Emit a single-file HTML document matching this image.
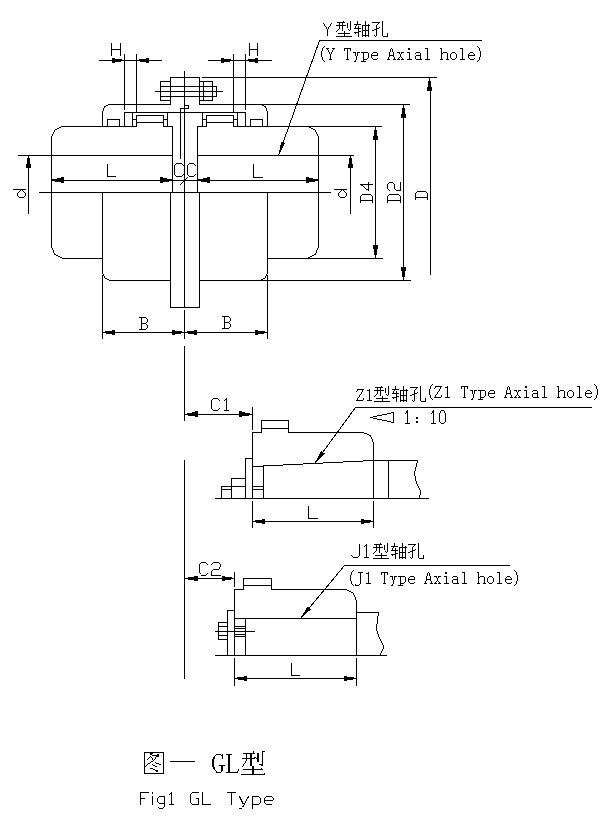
<!DOCTYPE html>
<html><head><meta charset="utf-8"><style>
html,body{margin:0;padding:0;background:#fff;}
svg{display:block;}
.s{fill:none;stroke:#000;stroke-width:1;}
</style></head><body>
<svg width="614" height="818" viewBox="0 0 614 818" role="img" aria-label="Fig1 GL Type coupling diagram">
<title>图一 GL型 / Fig1 GL Type — Y型轴孔 (Y Type Axial hole), Z1型轴孔 (Z1 Type Axial hole), J1型轴孔 (J1 Type Axial hole)</title>
<rect width="614" height="818" fill="#fff"/>
<g fill="#000" shape-rendering="crispEdges">
<rect x="184" y="71" width="1" height="237"/>
<rect x="184" y="310" width="1" height="29"/>
<rect x="170" y="77" width="30" height="1"/>
<rect x="170" y="77" width="1" height="28"/>
<rect x="199" y="77" width="1" height="28"/>
<rect x="160" y="81" width="11" height="1"/>
<rect x="160" y="100" width="11" height="1"/>
<rect x="160" y="81" width="1" height="20"/>
<rect x="199" y="81" width="14" height="1"/>
<rect x="199" y="100" width="14" height="1"/>
<rect x="212" y="81" width="1" height="20"/>
<rect x="203" y="81" width="1" height="20"/>
<rect x="160" y="86" width="57" height="1"/>
<rect x="160" y="96" width="57" height="1"/>
<rect x="216" y="86" width="1" height="11"/>
<rect x="155" y="91" width="68" height="1"/>
<rect x="202" y="77" width="235" height="1"/>
<rect x="108" y="104" width="63" height="1"/>
<rect x="199" y="104" width="211" height="1"/>
<rect x="106" y="105" width="1" height="1"/>
<rect x="107" y="105" width="1" height="1"/>
<rect x="104" y="106" width="1" height="1"/>
<rect x="105" y="106" width="1" height="1"/>
<rect x="104" y="107" width="1" height="1"/>
<rect x="103" y="108" width="1" height="1"/>
<rect x="103" y="109" width="1" height="1"/>
<rect x="103" y="110" width="1" height="1"/>
<rect x="263" y="105" width="1" height="1"/>
<rect x="262" y="105" width="1" height="1"/>
<rect x="265" y="106" width="1" height="1"/>
<rect x="264" y="106" width="1" height="1"/>
<rect x="265" y="107" width="1" height="1"/>
<rect x="266" y="108" width="1" height="1"/>
<rect x="266" y="109" width="1" height="1"/>
<rect x="266" y="110" width="1" height="1"/>
<rect x="102" y="111" width="1" height="16"/>
<rect x="267" y="111" width="1" height="16"/>
<rect x="107" y="119" width="13" height="1"/>
<rect x="107" y="119" width="1" height="8"/>
<rect x="119" y="119" width="1" height="8"/>
<rect x="250" y="119" width="13" height="1"/>
<rect x="250" y="119" width="1" height="8"/>
<rect x="262" y="119" width="1" height="8"/>
<rect x="124" y="112" width="122" height="1"/>
<rect x="124" y="112" width="1" height="15"/>
<rect x="132" y="112" width="1" height="15"/>
<rect x="136" y="115" width="1" height="12"/>
<rect x="132" y="119" width="5" height="1"/>
<rect x="136" y="115" width="28" height="1"/>
<rect x="136" y="122" width="28" height="1"/>
<rect x="163" y="115" width="1" height="12"/>
<rect x="163" y="119" width="5" height="1"/>
<rect x="167" y="112" width="1" height="15"/>
<rect x="245" y="112" width="1" height="15"/>
<rect x="237" y="112" width="1" height="15"/>
<rect x="233" y="115" width="1" height="12"/>
<rect x="233" y="119" width="5" height="1"/>
<rect x="206" y="115" width="28" height="1"/>
<rect x="206" y="122" width="28" height="1"/>
<rect x="206" y="115" width="1" height="12"/>
<rect x="202" y="119" width="5" height="1"/>
<rect x="202" y="112" width="1" height="15"/>
<rect x="184" y="105" width="5" height="1"/>
<rect x="188" y="105" width="1" height="4"/>
<rect x="180" y="108" width="9" height="1"/>
<rect x="180" y="108" width="1" height="51"/>
<rect x="61" y="126" width="76" height="1"/>
<rect x="163" y="126" width="10" height="1"/>
<rect x="197" y="126" width="10" height="1"/>
<rect x="233" y="126" width="149" height="1"/>
<rect x="59" y="127" width="1" height="1"/>
<rect x="60" y="127" width="1" height="1"/>
<rect x="57" y="128" width="1" height="1"/>
<rect x="58" y="128" width="1" height="1"/>
<rect x="55" y="129" width="1" height="1"/>
<rect x="56" y="129" width="1" height="1"/>
<rect x="54" y="130" width="1" height="1"/>
<rect x="54" y="131" width="1" height="1"/>
<rect x="53" y="132" width="1" height="1"/>
<rect x="53" y="133" width="1" height="1"/>
<rect x="52" y="134" width="1" height="1"/>
<rect x="52" y="135" width="1" height="1"/>
<rect x="310" y="127" width="1" height="1"/>
<rect x="309" y="127" width="1" height="1"/>
<rect x="312" y="128" width="1" height="1"/>
<rect x="311" y="128" width="1" height="1"/>
<rect x="314" y="129" width="1" height="1"/>
<rect x="313" y="129" width="1" height="1"/>
<rect x="315" y="130" width="1" height="1"/>
<rect x="315" y="131" width="1" height="1"/>
<rect x="316" y="132" width="1" height="1"/>
<rect x="316" y="133" width="1" height="1"/>
<rect x="317" y="134" width="1" height="1"/>
<rect x="317" y="135" width="1" height="1"/>
<rect x="51" y="136" width="1" height="112"/>
<rect x="318" y="136" width="1" height="112"/>
<rect x="52" y="248" width="1" height="1"/>
<rect x="52" y="249" width="1" height="1"/>
<rect x="53" y="250" width="1" height="1"/>
<rect x="53" y="251" width="1" height="1"/>
<rect x="53" y="252" width="1" height="1"/>
<rect x="54" y="253" width="1" height="1"/>
<rect x="54" y="254" width="1" height="1"/>
<rect x="55" y="254" width="1" height="1"/>
<rect x="56" y="255" width="1" height="1"/>
<rect x="57" y="255" width="1" height="1"/>
<rect x="58" y="256" width="1" height="1"/>
<rect x="59" y="256" width="1" height="1"/>
<rect x="60" y="257" width="1" height="1"/>
<rect x="61" y="257" width="1" height="1"/>
<rect x="317" y="248" width="1" height="1"/>
<rect x="317" y="249" width="1" height="1"/>
<rect x="316" y="250" width="1" height="1"/>
<rect x="316" y="251" width="1" height="1"/>
<rect x="316" y="252" width="1" height="1"/>
<rect x="315" y="253" width="1" height="1"/>
<rect x="315" y="254" width="1" height="1"/>
<rect x="314" y="254" width="1" height="1"/>
<rect x="313" y="255" width="1" height="1"/>
<rect x="312" y="255" width="1" height="1"/>
<rect x="311" y="256" width="1" height="1"/>
<rect x="310" y="256" width="1" height="1"/>
<rect x="309" y="257" width="1" height="1"/>
<rect x="308" y="257" width="1" height="1"/>
<rect x="62" y="258" width="41" height="1"/>
<rect x="267" y="258" width="116" height="1"/>
<rect x="172" y="126" width="1" height="67"/>
<rect x="197" y="126" width="1" height="67"/>
<rect x="170" y="192" width="1" height="116"/>
<rect x="199" y="192" width="1" height="116"/>
<rect x="170" y="307" width="30" height="1"/>
<rect x="102" y="192" width="1" height="82"/>
<rect x="103" y="274" width="1" height="1"/>
<rect x="103" y="275" width="1" height="1"/>
<rect x="104" y="276" width="1" height="1"/>
<rect x="104" y="277" width="1" height="1"/>
<rect x="105" y="278" width="1" height="1"/>
<rect x="106" y="278" width="1" height="1"/>
<rect x="107" y="279" width="1" height="1"/>
<rect x="108" y="279" width="1" height="1"/>
<rect x="109" y="280" width="62" height="1"/>
<rect x="267" y="192" width="1" height="82"/>
<rect x="266" y="274" width="1" height="1"/>
<rect x="266" y="275" width="1" height="1"/>
<rect x="265" y="276" width="1" height="1"/>
<rect x="265" y="277" width="1" height="1"/>
<rect x="264" y="278" width="1" height="1"/>
<rect x="263" y="278" width="1" height="1"/>
<rect x="262" y="279" width="1" height="1"/>
<rect x="261" y="279" width="1" height="1"/>
<rect x="199" y="280" width="212" height="1"/>
<rect x="102" y="275" width="1" height="64"/>
<rect x="267" y="275" width="1" height="64"/>
<rect x="18" y="155" width="155" height="1"/>
<rect x="197" y="155" width="157" height="1"/>
<rect x="39" y="192" width="292" height="1"/>
<rect x="28" y="155" width="1" height="59"/>
<rect x="28" y="156" width="1" height="2"/>
<rect x="27" y="158" width="3" height="6"/>
<rect x="26" y="164" width="5" height="4"/>
<rect x="350" y="155" width="1" height="59"/>
<rect x="350" y="156" width="1" height="2"/>
<rect x="349" y="158" width="3" height="6"/>
<rect x="348" y="164" width="5" height="4"/>
<rect x="51" y="180" width="268" height="1"/>
<rect x="52" y="179" width="3" height="2"/>
<rect x="55" y="179" width="2" height="3"/>
<rect x="57" y="178" width="4" height="4"/>
<rect x="61" y="177" width="3" height="6"/>
<rect x="169" y="179" width="3" height="2"/>
<rect x="167" y="179" width="2" height="3"/>
<rect x="163" y="178" width="4" height="4"/>
<rect x="160" y="177" width="3" height="6"/>
<rect x="198" y="179" width="3" height="2"/>
<rect x="201" y="179" width="2" height="3"/>
<rect x="203" y="178" width="4" height="4"/>
<rect x="207" y="177" width="3" height="6"/>
<rect x="315" y="179" width="3" height="2"/>
<rect x="313" y="179" width="2" height="3"/>
<rect x="309" y="178" width="4" height="4"/>
<rect x="306" y="177" width="3" height="6"/>
<rect x="102" y="332" width="166" height="1"/>
<rect x="103" y="332" width="2" height="1"/>
<rect x="105" y="331" width="1" height="2"/>
<rect x="106" y="331" width="6" height="3"/>
<rect x="112" y="330" width="3" height="5"/>
<rect x="182" y="332" width="2" height="1"/>
<rect x="181" y="331" width="1" height="2"/>
<rect x="175" y="331" width="6" height="3"/>
<rect x="172" y="330" width="3" height="5"/>
<rect x="185" y="332" width="2" height="1"/>
<rect x="187" y="331" width="1" height="2"/>
<rect x="188" y="331" width="6" height="3"/>
<rect x="194" y="330" width="3" height="5"/>
<rect x="265" y="332" width="2" height="1"/>
<rect x="264" y="331" width="1" height="2"/>
<rect x="258" y="331" width="6" height="3"/>
<rect x="255" y="330" width="3" height="5"/>
<rect x="99" y="60" width="63" height="1"/>
<rect x="122" y="60" width="2" height="1"/>
<rect x="121" y="59" width="1" height="2"/>
<rect x="115" y="59" width="6" height="3"/>
<rect x="112" y="58" width="3" height="5"/>
<rect x="137" y="60" width="2" height="1"/>
<rect x="139" y="59" width="1" height="2"/>
<rect x="140" y="59" width="6" height="3"/>
<rect x="146" y="58" width="3" height="5"/>
<rect x="124" y="54" width="1" height="56"/>
<rect x="136" y="54" width="1" height="59"/>
<rect x="208" y="60" width="64" height="1"/>
<rect x="231" y="60" width="2" height="1"/>
<rect x="230" y="59" width="1" height="2"/>
<rect x="224" y="59" width="6" height="3"/>
<rect x="221" y="58" width="3" height="5"/>
<rect x="246" y="60" width="2" height="1"/>
<rect x="248" y="59" width="1" height="2"/>
<rect x="249" y="59" width="6" height="3"/>
<rect x="255" y="58" width="3" height="5"/>
<rect x="233" y="54" width="1" height="59"/>
<rect x="245" y="54" width="1" height="56"/>
<rect x="375" y="126" width="1" height="133"/>
<rect x="375" y="127" width="1" height="3"/>
<rect x="374" y="130" width="3" height="6"/>
<rect x="373" y="136" width="5" height="4"/>
<rect x="375" y="255" width="1" height="3"/>
<rect x="374" y="249" width="3" height="6"/>
<rect x="373" y="245" width="5" height="4"/>
<rect x="403" y="104" width="1" height="177"/>
<rect x="403" y="105" width="1" height="3"/>
<rect x="402" y="108" width="3" height="6"/>
<rect x="401" y="114" width="5" height="4"/>
<rect x="403" y="277" width="1" height="3"/>
<rect x="402" y="271" width="3" height="6"/>
<rect x="401" y="267" width="5" height="4"/>
<rect x="430" y="88" width="1" height="187"/>
<rect x="429" y="78" width="1" height="3"/>
<rect x="428" y="81" width="3" height="6"/>
<rect x="427" y="87" width="5" height="4"/>
<path d="M319.5 40.5L278.5 155.5" class="s" />
<path d="M278.5 155.5L285.27 143.05L281.13 141.57Z" fill="#000"/>
<rect x="319" y="40" width="163" height="1"/>
<rect x="180" y="184" width="1" height="1"/>
<rect x="181" y="183" width="1" height="1"/>
<rect x="182" y="182" width="1" height="1"/>
<rect x="183" y="181" width="1" height="1"/>
<rect x="184" y="180" width="1" height="1"/>
<rect x="185" y="179" width="1" height="1"/>
<rect x="186" y="178" width="1" height="1"/>
<rect x="187" y="177" width="1" height="1"/>
<rect x="111" y="43" width="1" height="13"/>
<rect x="120" y="43" width="1" height="13"/>
<rect x="111" y="49" width="10" height="1"/>
<rect x="249" y="43" width="1" height="13"/>
<rect x="257" y="43" width="1" height="13"/>
<rect x="249" y="49" width="9" height="1"/>
<rect x="107" y="164" width="1" height="13"/>
<rect x="107" y="176" width="9" height="1"/>
<rect x="253" y="164" width="1" height="14"/>
<rect x="253" y="177" width="10" height="1"/>
<rect x="139" y="317" width="7" height="1"/>
<rect x="139" y="329" width="7" height="1"/>
<rect x="141" y="323" width="5" height="1"/>
<rect x="141" y="317" width="1" height="13"/>
<rect x="146" y="318" width="1" height="1"/>
<rect x="147" y="319" width="1" height="3"/>
<rect x="146" y="322" width="1" height="1"/>
<rect x="146" y="324" width="1" height="1"/>
<rect x="147" y="325" width="1" height="3"/>
<rect x="146" y="328" width="1" height="1"/>
<rect x="222" y="316" width="7" height="1"/>
<rect x="222" y="328" width="7" height="1"/>
<rect x="224" y="322" width="5" height="1"/>
<rect x="224" y="316" width="1" height="13"/>
<rect x="229" y="317" width="1" height="1"/>
<rect x="230" y="318" width="1" height="3"/>
<rect x="229" y="321" width="1" height="1"/>
<rect x="229" y="323" width="1" height="1"/>
<rect x="230" y="324" width="1" height="3"/>
<rect x="229" y="327" width="1" height="1"/>
<rect x="176" y="163" width="6" height="1"/>
<rect x="175" y="164" width="1" height="1"/>
<rect x="174" y="165" width="1" height="10"/>
<rect x="175" y="175" width="1" height="1"/>
<rect x="176" y="176" width="6" height="1"/>
<rect x="182" y="164" width="1" height="1"/>
<rect x="183" y="165" width="1" height="1"/>
<rect x="182" y="175" width="1" height="1"/>
<rect x="183" y="174" width="1" height="1"/>
<rect x="189" y="163" width="5" height="1"/>
<rect x="188" y="164" width="1" height="1"/>
<rect x="187" y="165" width="1" height="10"/>
<rect x="188" y="175" width="1" height="1"/>
<rect x="189" y="176" width="5" height="1"/>
<rect x="194" y="164" width="1" height="1"/>
<rect x="195" y="165" width="1" height="1"/>
<rect x="194" y="175" width="1" height="1"/>
<rect x="195" y="174" width="1" height="1"/>
<rect x="184" y="346" width="1" height="75"/>
<rect x="184" y="460" width="1" height="219"/>
<rect x="184" y="414" width="69" height="1"/>
<rect x="185" y="414" width="2" height="1"/>
<rect x="187" y="413" width="1" height="2"/>
<rect x="188" y="413" width="4" height="3"/>
<rect x="192" y="412" width="3" height="4"/>
<rect x="195" y="411" width="3" height="6"/>
<rect x="250" y="414" width="2" height="1"/>
<rect x="249" y="413" width="1" height="2"/>
<rect x="245" y="413" width="4" height="3"/>
<rect x="242" y="412" width="3" height="4"/>
<rect x="239" y="411" width="3" height="6"/>
<rect x="252" y="407" width="1" height="23"/>
<rect x="252" y="432" width="1" height="67"/>
<rect x="252" y="432" width="10" height="1"/>
<rect x="261" y="420" width="1" height="13"/>
<rect x="261" y="420" width="28" height="1"/>
<rect x="261" y="428" width="28" height="1"/>
<rect x="288" y="420" width="1" height="13"/>
<rect x="288" y="432" width="76" height="1"/>
<rect x="364" y="433" width="1" height="1"/>
<rect x="365" y="433" width="1" height="1"/>
<rect x="366" y="433" width="1" height="1"/>
<rect x="367" y="434" width="1" height="1"/>
<rect x="368" y="434" width="1" height="1"/>
<rect x="369" y="435" width="1" height="1"/>
<rect x="370" y="435" width="1" height="1"/>
<rect x="370" y="436" width="1" height="1"/>
<rect x="371" y="437" width="1" height="1"/>
<rect x="371" y="438" width="1" height="1"/>
<rect x="372" y="439" width="1" height="1"/>
<rect x="372" y="440" width="1" height="1"/>
<rect x="372" y="441" width="1" height="1"/>
<rect x="373" y="442" width="1" height="57"/>
<rect x="221" y="486" width="1" height="13"/>
<rect x="221" y="486" width="11" height="1"/>
<rect x="221" y="489" width="11" height="1"/>
<rect x="231" y="478" width="1" height="21"/>
<rect x="231" y="478" width="15" height="1"/>
<rect x="231" y="486" width="15" height="1"/>
<rect x="245" y="458" width="1" height="41"/>
<rect x="245" y="458" width="8" height="1"/>
<rect x="252" y="466" width="12" height="1"/>
<rect x="252" y="486" width="12" height="1"/>
<rect x="252" y="489" width="12" height="1"/>
<rect x="263" y="465" width="1" height="34"/>
<rect x="263" y="465" width="20" height="1"/>
<rect x="283" y="464" width="20" height="1"/>
<rect x="303" y="463" width="20" height="1"/>
<rect x="323" y="462" width="20" height="1"/>
<rect x="343" y="461" width="20" height="1"/>
<rect x="363" y="460" width="55" height="1"/>
<rect x="388" y="460" width="1" height="39"/>
<rect x="417" y="461" width="1" height="1"/>
<rect x="417" y="462" width="1" height="1"/>
<rect x="416" y="463" width="1" height="1"/>
<rect x="416" y="464" width="1" height="1"/>
<rect x="416" y="465" width="1" height="1"/>
<rect x="416" y="466" width="1" height="1"/>
<rect x="415" y="467" width="1" height="1"/>
<rect x="415" y="468" width="1" height="1"/>
<rect x="415" y="469" width="1" height="1"/>
<rect x="415" y="470" width="1" height="1"/>
<rect x="414" y="471" width="1" height="1"/>
<rect x="414" y="472" width="1" height="1"/>
<rect x="414" y="473" width="1" height="1"/>
<rect x="414" y="474" width="1" height="1"/>
<rect x="414" y="475" width="1" height="1"/>
<rect x="415" y="476" width="1" height="1"/>
<rect x="415" y="477" width="1" height="1"/>
<rect x="415" y="478" width="1" height="1"/>
<rect x="415" y="479" width="1" height="1"/>
<rect x="415" y="480" width="1" height="1"/>
<rect x="416" y="481" width="1" height="1"/>
<rect x="416" y="482" width="1" height="1"/>
<rect x="416" y="483" width="1" height="1"/>
<rect x="417" y="484" width="1" height="1"/>
<rect x="417" y="485" width="1" height="1"/>
<rect x="418" y="486" width="1" height="1"/>
<rect x="418" y="487" width="1" height="1"/>
<rect x="419" y="488" width="1" height="1"/>
<rect x="419" y="489" width="1" height="1"/>
<rect x="420" y="490" width="1" height="1"/>
<rect x="420" y="491" width="1" height="1"/>
<rect x="420" y="492" width="1" height="1"/>
<rect x="420" y="493" width="1" height="1"/>
<rect x="420" y="494" width="1" height="1"/>
<rect x="419" y="495" width="1" height="1"/>
<rect x="419" y="496" width="1" height="1"/>
<rect x="419" y="497" width="1" height="1"/>
<rect x="215" y="498" width="214" height="1"/>
<rect x="252" y="501" width="1" height="27"/>
<rect x="373" y="501" width="1" height="27"/>
<rect x="252" y="521" width="122" height="1"/>
<rect x="253" y="521" width="2" height="1"/>
<rect x="255" y="520" width="1" height="2"/>
<rect x="256" y="520" width="6" height="3"/>
<rect x="262" y="519" width="3" height="5"/>
<rect x="371" y="521" width="2" height="1"/>
<rect x="370" y="520" width="1" height="2"/>
<rect x="364" y="520" width="6" height="3"/>
<rect x="361" y="519" width="3" height="5"/>
<rect x="308" y="506" width="1" height="13"/>
<rect x="308" y="518" width="10" height="1"/>
<path d="M355.5 407.5L314.5 463.5" class="s" />
<path d="M314.5 463.5L324.55 453.50L321.00 450.90Z" fill="#000"/>
<rect x="355" y="407" width="237" height="1"/>
<path d="M370.5 417.5L393.5 412.5L393.5 422.5Z" class="s" fill="none"/>
<rect x="184" y="578" width="51" height="1"/>
<rect x="185" y="578" width="3" height="1"/>
<rect x="188" y="577" width="6" height="3"/>
<rect x="194" y="576" width="4" height="5"/>
<rect x="232" y="578" width="2" height="1"/>
<rect x="231" y="577" width="1" height="2"/>
<rect x="225" y="577" width="6" height="3"/>
<rect x="222" y="576" width="3" height="5"/>
<rect x="234" y="572" width="1" height="15"/>
<rect x="234" y="589" width="1" height="67"/>
<rect x="234" y="589" width="10" height="1"/>
<rect x="243" y="578" width="1" height="12"/>
<rect x="243" y="578" width="29" height="1"/>
<rect x="243" y="585" width="29" height="1"/>
<rect x="271" y="578" width="1" height="12"/>
<rect x="271" y="589" width="76" height="1"/>
<rect x="347" y="590" width="1" height="1"/>
<rect x="348" y="590" width="1" height="1"/>
<rect x="349" y="591" width="1" height="1"/>
<rect x="350" y="591" width="1" height="1"/>
<rect x="351" y="592" width="1" height="1"/>
<rect x="352" y="592" width="1" height="1"/>
<rect x="353" y="593" width="1" height="1"/>
<rect x="353" y="594" width="1" height="1"/>
<rect x="354" y="595" width="1" height="1"/>
<rect x="354" y="596" width="1" height="1"/>
<rect x="355" y="597" width="1" height="1"/>
<rect x="355" y="598" width="1" height="1"/>
<rect x="355" y="599" width="1" height="1"/>
<rect x="356" y="600" width="1" height="56"/>
<rect x="227" y="610" width="1" height="46"/>
<rect x="227" y="610" width="8" height="1"/>
<rect x="218" y="622" width="1" height="18"/>
<rect x="218" y="622" width="10" height="1"/>
<rect x="218" y="639" width="10" height="1"/>
<rect x="218" y="626" width="10" height="1"/>
<rect x="218" y="635" width="10" height="1"/>
<rect x="215" y="631" width="40" height="1"/>
<rect x="234" y="618" width="123" height="1"/>
<rect x="245" y="618" width="1" height="38"/>
<rect x="234" y="626" width="12" height="1"/>
<rect x="234" y="628" width="12" height="1"/>
<rect x="234" y="634" width="12" height="1"/>
<rect x="234" y="636" width="12" height="1"/>
<rect x="356" y="612" width="23" height="1"/>
<rect x="378" y="613" width="1" height="1"/>
<rect x="378" y="614" width="1" height="1"/>
<rect x="378" y="615" width="1" height="1"/>
<rect x="377" y="616" width="1" height="1"/>
<rect x="377" y="617" width="1" height="1"/>
<rect x="377" y="618" width="1" height="1"/>
<rect x="377" y="619" width="1" height="1"/>
<rect x="377" y="620" width="1" height="1"/>
<rect x="377" y="621" width="1" height="1"/>
<rect x="377" y="622" width="1" height="1"/>
<rect x="377" y="623" width="1" height="1"/>
<rect x="376" y="624" width="1" height="1"/>
<rect x="376" y="625" width="1" height="1"/>
<rect x="376" y="626" width="1" height="1"/>
<rect x="376" y="627" width="1" height="1"/>
<rect x="376" y="628" width="1" height="1"/>
<rect x="376" y="629" width="1" height="1"/>
<rect x="376" y="630" width="1" height="1"/>
<rect x="377" y="631" width="1" height="1"/>
<rect x="377" y="632" width="1" height="1"/>
<rect x="377" y="633" width="1" height="1"/>
<rect x="378" y="634" width="1" height="1"/>
<rect x="378" y="635" width="1" height="1"/>
<rect x="378" y="636" width="1" height="1"/>
<rect x="379" y="637" width="1" height="1"/>
<rect x="379" y="638" width="1" height="1"/>
<rect x="380" y="639" width="1" height="1"/>
<rect x="380" y="640" width="1" height="1"/>
<rect x="381" y="641" width="1" height="1"/>
<rect x="381" y="642" width="1" height="1"/>
<rect x="382" y="643" width="1" height="1"/>
<rect x="382" y="644" width="1" height="1"/>
<rect x="383" y="645" width="1" height="1"/>
<rect x="383" y="646" width="1" height="1"/>
<rect x="383" y="647" width="1" height="1"/>
<rect x="383" y="648" width="1" height="1"/>
<rect x="382" y="649" width="1" height="1"/>
<rect x="382" y="650" width="1" height="1"/>
<rect x="381" y="651" width="1" height="1"/>
<rect x="381" y="652" width="1" height="1"/>
<rect x="380" y="653" width="1" height="1"/>
<rect x="380" y="654" width="1" height="1"/>
<rect x="215" y="655" width="172" height="1"/>
<rect x="234" y="658" width="1" height="28"/>
<rect x="356" y="658" width="1" height="28"/>
<rect x="234" y="678" width="123" height="1"/>
<rect x="235" y="678" width="2" height="1"/>
<rect x="237" y="677" width="1" height="2"/>
<rect x="238" y="677" width="6" height="3"/>
<rect x="244" y="676" width="3" height="5"/>
<rect x="354" y="678" width="2" height="1"/>
<rect x="353" y="677" width="1" height="2"/>
<rect x="347" y="677" width="6" height="3"/>
<rect x="344" y="676" width="3" height="5"/>
<rect x="291" y="663" width="1" height="13"/>
<rect x="291" y="675" width="9" height="1"/>
<path d="M344.5 565.5L300.5 618.5" class="s" />
<path d="M300.5 618.5L311.14 609.13L307.75 606.32Z" fill="#000"/>
<rect x="344" y="565" width="166" height="1"/>
<rect x="337" y="22" width="8" height="1"/>
<rect x="343" y="21" width="1" height="1"/>
<rect x="336" y="25" width="10" height="1"/>
<rect x="339" y="22" width="1" height="7"/>
<rect x="338" y="29" width="1" height="1"/>
<rect x="337" y="30" width="1" height="1"/>
<rect x="336" y="31" width="1" height="1"/>
<rect x="342" y="22" width="1" height="9"/>
<rect x="347" y="23" width="1" height="5"/>
<rect x="350" y="21" width="1" height="9"/>
<rect x="349" y="30" width="1" height="1"/>
<rect x="348" y="29" width="1" height="1"/>
<rect x="344" y="31" width="1" height="6"/>
<rect x="338" y="33" width="12" height="1"/>
<rect x="336" y="36" width="16" height="1"/>
<rect x="357" y="21" width="1" height="3"/>
<rect x="354" y="24" width="7" height="1"/>
<rect x="356" y="25" width="1" height="1"/>
<rect x="355" y="26" width="1" height="1"/>
<rect x="355" y="27" width="1" height="1"/>
<rect x="354" y="28" width="7" height="1"/>
<rect x="358" y="26" width="1" height="11"/>
<rect x="358" y="31" width="3" height="1"/>
<rect x="354" y="32" width="4" height="1"/>
<rect x="355" y="33" width="1" height="1"/>
<rect x="365" y="21" width="1" height="16"/>
<rect x="362" y="25" width="1" height="12"/>
<rect x="368" y="24" width="1" height="13"/>
<rect x="362" y="25" width="8" height="1"/>
<rect x="362" y="30" width="7" height="1"/>
<rect x="362" y="35" width="7" height="1"/>
<rect x="372" y="22" width="8" height="1"/>
<rect x="378" y="23" width="1" height="1"/>
<rect x="377" y="24" width="1" height="1"/>
<rect x="376" y="25" width="1" height="1"/>
<rect x="376" y="25" width="1" height="11"/>
<rect x="375" y="36" width="1" height="1"/>
<rect x="374" y="35" width="1" height="1"/>
<rect x="374" y="29" width="3" height="1"/>
<rect x="372" y="30" width="2" height="1"/>
<rect x="377" y="28" width="2" height="1"/>
<rect x="379" y="27" width="1" height="1"/>
<rect x="382" y="21" width="1" height="15"/>
<rect x="383" y="36" width="5" height="1"/>
<rect x="387" y="33" width="1" height="4"/>
<rect x="375" y="387" width="8" height="1"/>
<rect x="381" y="386" width="1" height="1"/>
<rect x="374" y="390" width="10" height="1"/>
<rect x="377" y="387" width="1" height="7"/>
<rect x="376" y="394" width="1" height="1"/>
<rect x="375" y="395" width="1" height="1"/>
<rect x="374" y="396" width="1" height="1"/>
<rect x="380" y="387" width="1" height="9"/>
<rect x="385" y="388" width="1" height="5"/>
<rect x="388" y="386" width="1" height="9"/>
<rect x="387" y="395" width="1" height="1"/>
<rect x="386" y="394" width="1" height="1"/>
<rect x="382" y="396" width="1" height="6"/>
<rect x="376" y="398" width="12" height="1"/>
<rect x="374" y="401" width="16" height="1"/>
<rect x="395" y="386" width="1" height="3"/>
<rect x="392" y="389" width="7" height="1"/>
<rect x="394" y="390" width="1" height="1"/>
<rect x="393" y="391" width="1" height="1"/>
<rect x="393" y="392" width="1" height="1"/>
<rect x="392" y="393" width="7" height="1"/>
<rect x="396" y="391" width="1" height="11"/>
<rect x="396" y="396" width="3" height="1"/>
<rect x="392" y="397" width="4" height="1"/>
<rect x="393" y="398" width="1" height="1"/>
<rect x="403" y="386" width="1" height="16"/>
<rect x="400" y="390" width="1" height="12"/>
<rect x="406" y="389" width="1" height="13"/>
<rect x="400" y="390" width="8" height="1"/>
<rect x="400" y="395" width="7" height="1"/>
<rect x="400" y="400" width="7" height="1"/>
<rect x="410" y="387" width="8" height="1"/>
<rect x="416" y="388" width="1" height="1"/>
<rect x="415" y="389" width="1" height="1"/>
<rect x="414" y="390" width="1" height="1"/>
<rect x="414" y="390" width="1" height="11"/>
<rect x="413" y="401" width="1" height="1"/>
<rect x="412" y="400" width="1" height="1"/>
<rect x="412" y="394" width="3" height="1"/>
<rect x="410" y="395" width="2" height="1"/>
<rect x="415" y="393" width="2" height="1"/>
<rect x="417" y="392" width="1" height="1"/>
<rect x="420" y="386" width="1" height="15"/>
<rect x="421" y="401" width="5" height="1"/>
<rect x="425" y="398" width="1" height="4"/>
<rect x="374" y="544" width="8" height="1"/>
<rect x="380" y="543" width="1" height="1"/>
<rect x="373" y="547" width="10" height="1"/>
<rect x="376" y="544" width="1" height="7"/>
<rect x="375" y="551" width="1" height="1"/>
<rect x="374" y="552" width="1" height="1"/>
<rect x="373" y="553" width="1" height="1"/>
<rect x="379" y="544" width="1" height="9"/>
<rect x="384" y="545" width="1" height="5"/>
<rect x="387" y="543" width="1" height="9"/>
<rect x="386" y="552" width="1" height="1"/>
<rect x="385" y="551" width="1" height="1"/>
<rect x="381" y="553" width="1" height="6"/>
<rect x="375" y="555" width="12" height="1"/>
<rect x="373" y="558" width="16" height="1"/>
<rect x="394" y="543" width="1" height="3"/>
<rect x="391" y="546" width="7" height="1"/>
<rect x="393" y="547" width="1" height="1"/>
<rect x="392" y="548" width="1" height="1"/>
<rect x="392" y="549" width="1" height="1"/>
<rect x="391" y="550" width="7" height="1"/>
<rect x="395" y="548" width="1" height="11"/>
<rect x="395" y="553" width="3" height="1"/>
<rect x="391" y="554" width="4" height="1"/>
<rect x="392" y="555" width="1" height="1"/>
<rect x="402" y="543" width="1" height="16"/>
<rect x="399" y="547" width="1" height="12"/>
<rect x="405" y="546" width="1" height="13"/>
<rect x="399" y="547" width="8" height="1"/>
<rect x="399" y="552" width="7" height="1"/>
<rect x="399" y="557" width="7" height="1"/>
<rect x="408" y="544" width="8" height="1"/>
<rect x="414" y="545" width="1" height="1"/>
<rect x="413" y="546" width="1" height="1"/>
<rect x="412" y="547" width="1" height="1"/>
<rect x="412" y="547" width="1" height="11"/>
<rect x="411" y="558" width="1" height="1"/>
<rect x="410" y="557" width="1" height="1"/>
<rect x="410" y="551" width="3" height="1"/>
<rect x="408" y="552" width="2" height="1"/>
<rect x="413" y="550" width="2" height="1"/>
<rect x="415" y="549" width="1" height="1"/>
<rect x="418" y="543" width="1" height="15"/>
<rect x="419" y="558" width="5" height="1"/>
<rect x="423" y="555" width="1" height="4"/>
<rect x="13" y="189" width="13" height="1"/>
<rect x="20" y="190" width="1" height="1"/>
<rect x="22" y="190" width="1" height="1"/>
<rect x="19" y="191" width="1" height="1"/>
<rect x="18" y="192" width="1" height="1"/>
<rect x="17" y="193" width="1" height="3"/>
<rect x="18" y="196" width="1" height="1"/>
<rect x="19" y="197" width="5" height="1"/>
<rect x="24" y="196" width="1" height="1"/>
<rect x="25" y="193" width="1" height="3"/>
<rect x="24" y="192" width="1" height="1"/>
<rect x="23" y="191" width="1" height="1"/>
<rect x="334" y="189" width="13" height="1"/>
<rect x="341" y="190" width="1" height="1"/>
<rect x="343" y="190" width="1" height="1"/>
<rect x="340" y="191" width="1" height="1"/>
<rect x="339" y="192" width="1" height="1"/>
<rect x="338" y="193" width="1" height="3"/>
<rect x="339" y="196" width="1" height="1"/>
<rect x="340" y="197" width="5" height="1"/>
<rect x="345" y="196" width="1" height="1"/>
<rect x="346" y="193" width="1" height="3"/>
<rect x="345" y="192" width="1" height="1"/>
<rect x="344" y="191" width="1" height="1"/>
<rect x="360" y="184" width="13" height="1"/>
<rect x="368" y="182" width="1" height="9"/>
<rect x="361" y="185" width="1" height="1"/>
<rect x="362" y="185" width="1" height="1"/>
<rect x="363" y="186" width="1" height="1"/>
<rect x="364" y="187" width="1" height="1"/>
<rect x="365" y="188" width="1" height="1"/>
<rect x="366" y="189" width="1" height="1"/>
<rect x="367" y="189" width="1" height="1"/>
<rect x="362" y="194" width="9" height="1"/>
<rect x="361" y="195" width="1" height="1"/>
<rect x="371" y="195" width="1" height="1"/>
<rect x="360" y="196" width="1" height="7"/>
<rect x="372" y="196" width="1" height="7"/>
<rect x="360" y="200" width="13" height="1"/>
<rect x="400" y="182" width="1" height="9"/>
<rect x="396" y="190" width="5" height="1"/>
<rect x="395" y="189" width="1" height="1"/>
<rect x="394" y="184" width="1" height="5"/>
<rect x="393" y="183" width="1" height="1"/>
<rect x="389" y="182" width="4" height="1"/>
<rect x="388" y="183" width="1" height="1"/>
<rect x="387" y="184" width="1" height="5"/>
<rect x="388" y="189" width="1" height="1"/>
<rect x="389" y="190" width="1" height="1"/>
<rect x="389" y="194" width="10" height="1"/>
<rect x="388" y="195" width="1" height="1"/>
<rect x="399" y="195" width="1" height="1"/>
<rect x="387" y="196" width="1" height="7"/>
<rect x="400" y="196" width="1" height="7"/>
<rect x="387" y="200" width="14" height="1"/>
<rect x="417" y="191" width="9" height="1"/>
<rect x="416" y="192" width="1" height="1"/>
<rect x="426" y="192" width="1" height="1"/>
<rect x="415" y="193" width="1" height="7"/>
<rect x="427" y="193" width="1" height="7"/>
<rect x="415" y="197" width="13" height="1"/>
<rect x="144" y="752" width="20" height="1"/>
<rect x="144" y="773" width="20" height="1"/>
<rect x="144" y="752" width="1" height="22"/>
<rect x="163" y="752" width="1" height="22"/>
<rect x="150" y="753" width="3" height="1"/>
<rect x="150" y="754" width="2" height="1"/>
<rect x="152" y="755" width="6" height="1"/>
<rect x="157" y="754" width="2" height="3"/>
<rect x="150" y="756" width="1" height="1"/>
<rect x="149" y="757" width="1" height="1"/>
<rect x="148" y="758" width="1" height="1"/>
<rect x="147" y="759" width="1" height="1"/>
<rect x="151" y="757" width="1" height="1"/>
<rect x="152" y="758" width="1" height="2"/>
<rect x="156" y="756" width="1" height="1"/>
<rect x="155" y="757" width="1" height="1"/>
<rect x="155" y="758" width="1" height="1"/>
<rect x="154" y="759" width="1" height="1"/>
<rect x="153" y="760" width="1" height="1"/>
<rect x="152" y="761" width="1" height="1"/>
<rect x="151" y="761" width="1" height="1"/>
<rect x="150" y="762" width="1" height="1"/>
<rect x="149" y="763" width="1" height="1"/>
<rect x="148" y="763" width="1" height="1"/>
<rect x="147" y="764" width="1" height="1"/>
<rect x="146" y="765" width="1" height="1"/>
<rect x="145" y="766" width="1" height="1"/>
<rect x="155" y="762" width="1" height="1"/>
<rect x="156" y="763" width="1" height="1"/>
<rect x="157" y="763" width="1" height="1"/>
<rect x="158" y="763" width="1" height="1"/>
<rect x="159" y="764" width="1" height="1"/>
<rect x="160" y="764" width="1" height="1"/>
<rect x="152" y="764" width="1" height="1"/>
<rect x="153" y="765" width="1" height="1"/>
<rect x="154" y="765" width="1" height="1"/>
<rect x="155" y="766" width="1" height="1"/>
<rect x="156" y="766" width="1" height="1"/>
<rect x="150" y="768" width="3" height="1"/>
<rect x="153" y="769" width="1" height="1"/>
<rect x="154" y="769" width="1" height="1"/>
<rect x="155" y="770" width="1" height="1"/>
<rect x="156" y="770" width="2" height="2"/>
<rect x="170" y="761" width="25" height="1"/>
<rect x="243" y="753" width="12" height="1"/>
<rect x="253" y="751" width="1" height="2"/>
<rect x="242" y="758" width="13" height="1"/>
<rect x="246" y="753" width="1" height="7"/>
<rect x="246" y="760" width="1" height="1"/>
<rect x="245" y="761" width="1" height="1"/>
<rect x="245" y="762" width="1" height="1"/>
<rect x="244" y="763" width="1" height="1"/>
<rect x="243" y="764" width="1" height="1"/>
<rect x="243" y="765" width="1" height="1"/>
<rect x="242" y="766" width="1" height="1"/>
<rect x="250" y="753" width="2" height="13"/>
<rect x="257" y="753" width="2" height="9"/>
<rect x="254" y="757" width="2" height="1"/>
<rect x="256" y="758" width="1" height="1"/>
<rect x="262" y="751" width="1" height="15"/>
<rect x="262" y="751" width="3" height="1"/>
<rect x="259" y="764" width="3" height="1"/>
<rect x="261" y="765" width="1" height="1"/>
<rect x="252" y="766" width="2" height="9"/>
<rect x="243" y="769" width="20" height="1"/>
<rect x="261" y="768" width="1" height="1"/>
<rect x="241" y="774" width="24" height="1"/>
<rect x="264" y="773" width="1" height="1"/>
<rect x="324" y="46" width="1" height="1"/>
<rect x="323" y="47" width="1" height="1"/>
<rect x="322" y="48" width="1" height="3"/>
<rect x="321" y="51" width="1" height="6"/>
<rect x="322" y="57" width="1" height="3"/>
<rect x="323" y="60" width="1" height="1"/>
<rect x="324" y="61" width="1" height="1"/>
<rect x="326" y="48" width="3" height="1"/>
<rect x="327" y="49" width="1" height="1"/>
<rect x="328" y="50" width="1" height="2"/>
<rect x="329" y="52" width="1" height="2"/>
<rect x="332" y="48" width="3" height="1"/>
<rect x="333" y="49" width="1" height="1"/>
<rect x="332" y="50" width="1" height="2"/>
<rect x="331" y="52" width="1" height="2"/>
<rect x="330" y="54" width="1" height="6"/>
<rect x="329" y="59" width="3" height="1"/>
<rect x="344" y="48" width="7" height="1"/>
<rect x="344" y="49" width="1" height="2"/>
<rect x="350" y="49" width="1" height="2"/>
<rect x="347" y="48" width="1" height="12"/>
<rect x="346" y="59" width="3" height="1"/>
<rect x="353" y="52" width="3" height="1"/>
<rect x="357" y="52" width="3" height="1"/>
<rect x="355" y="53" width="1" height="3"/>
<rect x="357" y="53" width="1" height="3"/>
<rect x="356" y="56" width="1" height="4"/>
<rect x="355" y="60" width="1" height="1"/>
<rect x="354" y="61" width="2" height="1"/>
<rect x="361" y="52" width="2" height="1"/>
<rect x="363" y="52" width="1" height="10"/>
<rect x="364" y="52" width="4" height="1"/>
<rect x="368" y="53" width="1" height="1"/>
<rect x="368" y="54" width="1" height="4"/>
<rect x="367" y="58" width="1" height="1"/>
<rect x="364" y="59" width="3" height="1"/>
<rect x="361" y="61" width="5" height="1"/>
<rect x="373" y="52" width="4" height="1"/>
<rect x="372" y="53" width="1" height="1"/>
<rect x="377" y="53" width="1" height="1"/>
<rect x="371" y="54" width="1" height="4"/>
<rect x="377" y="54" width="1" height="2"/>
<rect x="371" y="55" width="7" height="1"/>
<rect x="372" y="58" width="1" height="1"/>
<rect x="373" y="59" width="4" height="1"/>
<rect x="377" y="58" width="1" height="1"/>
<rect x="391" y="48" width="1" height="1"/>
<rect x="390" y="49" width="1" height="3"/>
<rect x="392" y="49" width="1" height="3"/>
<rect x="389" y="52" width="1" height="5"/>
<rect x="393" y="52" width="1" height="5"/>
<rect x="389" y="55" width="5" height="1"/>
<rect x="388" y="57" width="1" height="2"/>
<rect x="394" y="57" width="1" height="2"/>
<rect x="387" y="59" width="3" height="1"/>
<rect x="393" y="59" width="3" height="1"/>
<rect x="397" y="52" width="3" height="1"/>
<rect x="401" y="52" width="3" height="1"/>
<rect x="399" y="53" width="1" height="1"/>
<rect x="401" y="53" width="1" height="1"/>
<rect x="400" y="54" width="1" height="3"/>
<rect x="399" y="57" width="1" height="1"/>
<rect x="401" y="57" width="1" height="1"/>
<rect x="398" y="58" width="1" height="1"/>
<rect x="402" y="58" width="1" height="1"/>
<rect x="397" y="59" width="3" height="1"/>
<rect x="401" y="59" width="3" height="1"/>
<rect x="408" y="48" width="2" height="2"/>
<rect x="407" y="52" width="3" height="1"/>
<rect x="409" y="52" width="1" height="8"/>
<rect x="407" y="59" width="5" height="1"/>
<rect x="416" y="52" width="4" height="1"/>
<rect x="415" y="53" width="1" height="1"/>
<rect x="420" y="53" width="1" height="7"/>
<rect x="416" y="55" width="4" height="1"/>
<rect x="415" y="56" width="1" height="3"/>
<rect x="416" y="59" width="4" height="1"/>
<rect x="421" y="59" width="1" height="1"/>
<rect x="425" y="48" width="3" height="1"/>
<rect x="427" y="48" width="1" height="12"/>
<rect x="425" y="59" width="5" height="1"/>
<rect x="440" y="48" width="2" height="1"/>
<rect x="441" y="48" width="1" height="12"/>
<rect x="442" y="53" width="1" height="1"/>
<rect x="443" y="52" width="4" height="1"/>
<rect x="447" y="53" width="1" height="1"/>
<rect x="447" y="54" width="1" height="6"/>
<rect x="440" y="59" width="3" height="1"/>
<rect x="446" y="59" width="3" height="1"/>
<rect x="452" y="52" width="3" height="1"/>
<rect x="451" y="53" width="1" height="1"/>
<rect x="455" y="53" width="1" height="1"/>
<rect x="450" y="54" width="1" height="4"/>
<rect x="456" y="54" width="1" height="4"/>
<rect x="451" y="58" width="1" height="1"/>
<rect x="455" y="58" width="1" height="1"/>
<rect x="452" y="59" width="3" height="1"/>
<rect x="460" y="48" width="3" height="1"/>
<rect x="462" y="48" width="1" height="12"/>
<rect x="460" y="59" width="5" height="1"/>
<rect x="470" y="52" width="3" height="1"/>
<rect x="469" y="53" width="1" height="1"/>
<rect x="473" y="53" width="1" height="1"/>
<rect x="468" y="54" width="1" height="4"/>
<rect x="474" y="54" width="1" height="1"/>
<rect x="468" y="55" width="7" height="1"/>
<rect x="469" y="58" width="1" height="1"/>
<rect x="470" y="59" width="4" height="1"/>
<rect x="474" y="58" width="1" height="1"/>
<rect x="477" y="46" width="1" height="1"/>
<rect x="478" y="47" width="1" height="1"/>
<rect x="479" y="48" width="1" height="3"/>
<rect x="480" y="51" width="1" height="6"/>
<rect x="479" y="57" width="1" height="3"/>
<rect x="478" y="60" width="1" height="1"/>
<rect x="477" y="61" width="1" height="1"/>
<rect x="432" y="384" width="1" height="1"/>
<rect x="431" y="385" width="1" height="1"/>
<rect x="430" y="386" width="1" height="3"/>
<rect x="429" y="389" width="1" height="6"/>
<rect x="430" y="395" width="1" height="3"/>
<rect x="431" y="398" width="1" height="1"/>
<rect x="432" y="399" width="1" height="1"/>
<rect x="435" y="386" width="7" height="1"/>
<rect x="435" y="387" width="1" height="1"/>
<rect x="434" y="388" width="1" height="1"/>
<rect x="440" y="387" width="1" height="1"/>
<rect x="440" y="388" width="1" height="1"/>
<rect x="439" y="389" width="1" height="1"/>
<rect x="439" y="390" width="1" height="1"/>
<rect x="438" y="391" width="1" height="1"/>
<rect x="437" y="392" width="1" height="1"/>
<rect x="437" y="393" width="1" height="1"/>
<rect x="436" y="394" width="1" height="1"/>
<rect x="435" y="395" width="1" height="1"/>
<rect x="435" y="396" width="1" height="1"/>
<rect x="434" y="397" width="7" height="1"/>
<rect x="441" y="395" width="1" height="2"/>
<rect x="445" y="387" width="2" height="1"/>
<rect x="447" y="386" width="1" height="12"/>
<rect x="445" y="397" width="5" height="1"/>
<rect x="461" y="386" width="7" height="1"/>
<rect x="461" y="387" width="1" height="2"/>
<rect x="467" y="387" width="1" height="2"/>
<rect x="464" y="386" width="1" height="12"/>
<rect x="463" y="397" width="3" height="1"/>
<rect x="470" y="390" width="3" height="1"/>
<rect x="474" y="390" width="3" height="1"/>
<rect x="472" y="391" width="1" height="3"/>
<rect x="474" y="391" width="1" height="3"/>
<rect x="473" y="394" width="1" height="4"/>
<rect x="472" y="398" width="1" height="1"/>
<rect x="471" y="399" width="2" height="1"/>
<rect x="478" y="390" width="2" height="1"/>
<rect x="480" y="390" width="1" height="10"/>
<rect x="481" y="390" width="4" height="1"/>
<rect x="485" y="391" width="1" height="1"/>
<rect x="485" y="392" width="1" height="4"/>
<rect x="484" y="396" width="1" height="1"/>
<rect x="481" y="397" width="3" height="1"/>
<rect x="478" y="399" width="5" height="1"/>
<rect x="490" y="390" width="4" height="1"/>
<rect x="489" y="391" width="1" height="1"/>
<rect x="494" y="391" width="1" height="1"/>
<rect x="488" y="392" width="1" height="4"/>
<rect x="494" y="392" width="1" height="2"/>
<rect x="488" y="393" width="7" height="1"/>
<rect x="489" y="396" width="1" height="1"/>
<rect x="490" y="397" width="4" height="1"/>
<rect x="494" y="396" width="1" height="1"/>
<rect x="508" y="386" width="1" height="1"/>
<rect x="507" y="387" width="1" height="3"/>
<rect x="509" y="387" width="1" height="3"/>
<rect x="506" y="390" width="1" height="5"/>
<rect x="510" y="390" width="1" height="5"/>
<rect x="506" y="393" width="5" height="1"/>
<rect x="505" y="395" width="1" height="2"/>
<rect x="511" y="395" width="1" height="2"/>
<rect x="504" y="397" width="3" height="1"/>
<rect x="510" y="397" width="3" height="1"/>
<rect x="514" y="390" width="3" height="1"/>
<rect x="518" y="390" width="3" height="1"/>
<rect x="516" y="391" width="1" height="1"/>
<rect x="518" y="391" width="1" height="1"/>
<rect x="517" y="392" width="1" height="3"/>
<rect x="516" y="395" width="1" height="1"/>
<rect x="518" y="395" width="1" height="1"/>
<rect x="515" y="396" width="1" height="1"/>
<rect x="519" y="396" width="1" height="1"/>
<rect x="514" y="397" width="3" height="1"/>
<rect x="518" y="397" width="3" height="1"/>
<rect x="525" y="386" width="2" height="2"/>
<rect x="524" y="390" width="3" height="1"/>
<rect x="526" y="390" width="1" height="8"/>
<rect x="524" y="397" width="5" height="1"/>
<rect x="533" y="390" width="4" height="1"/>
<rect x="532" y="391" width="1" height="1"/>
<rect x="537" y="391" width="1" height="7"/>
<rect x="533" y="393" width="4" height="1"/>
<rect x="532" y="394" width="1" height="3"/>
<rect x="533" y="397" width="4" height="1"/>
<rect x="538" y="397" width="1" height="1"/>
<rect x="542" y="386" width="3" height="1"/>
<rect x="544" y="386" width="1" height="12"/>
<rect x="542" y="397" width="5" height="1"/>
<rect x="557" y="386" width="2" height="1"/>
<rect x="558" y="386" width="1" height="12"/>
<rect x="559" y="391" width="1" height="1"/>
<rect x="560" y="390" width="4" height="1"/>
<rect x="564" y="391" width="1" height="1"/>
<rect x="564" y="392" width="1" height="6"/>
<rect x="557" y="397" width="3" height="1"/>
<rect x="563" y="397" width="3" height="1"/>
<rect x="569" y="390" width="3" height="1"/>
<rect x="568" y="391" width="1" height="1"/>
<rect x="572" y="391" width="1" height="1"/>
<rect x="567" y="392" width="1" height="4"/>
<rect x="573" y="392" width="1" height="4"/>
<rect x="568" y="396" width="1" height="1"/>
<rect x="572" y="396" width="1" height="1"/>
<rect x="569" y="397" width="3" height="1"/>
<rect x="577" y="386" width="3" height="1"/>
<rect x="579" y="386" width="1" height="12"/>
<rect x="577" y="397" width="5" height="1"/>
<rect x="587" y="390" width="3" height="1"/>
<rect x="586" y="391" width="1" height="1"/>
<rect x="590" y="391" width="1" height="1"/>
<rect x="585" y="392" width="1" height="4"/>
<rect x="591" y="392" width="1" height="1"/>
<rect x="585" y="393" width="7" height="1"/>
<rect x="586" y="396" width="1" height="1"/>
<rect x="587" y="397" width="4" height="1"/>
<rect x="591" y="396" width="1" height="1"/>
<rect x="594" y="384" width="1" height="1"/>
<rect x="595" y="385" width="1" height="1"/>
<rect x="596" y="386" width="1" height="3"/>
<rect x="597" y="389" width="1" height="6"/>
<rect x="596" y="395" width="1" height="3"/>
<rect x="595" y="398" width="1" height="1"/>
<rect x="594" y="399" width="1" height="1"/>
<rect x="353" y="570" width="1" height="1"/>
<rect x="352" y="571" width="1" height="1"/>
<rect x="351" y="572" width="1" height="3"/>
<rect x="350" y="575" width="1" height="6"/>
<rect x="351" y="581" width="1" height="3"/>
<rect x="352" y="584" width="1" height="1"/>
<rect x="353" y="585" width="1" height="1"/>
<rect x="381" y="572" width="7" height="1"/>
<rect x="381" y="573" width="1" height="2"/>
<rect x="387" y="573" width="1" height="2"/>
<rect x="384" y="572" width="1" height="12"/>
<rect x="383" y="583" width="3" height="1"/>
<rect x="390" y="576" width="3" height="1"/>
<rect x="394" y="576" width="3" height="1"/>
<rect x="392" y="577" width="1" height="3"/>
<rect x="394" y="577" width="1" height="3"/>
<rect x="393" y="580" width="1" height="4"/>
<rect x="392" y="584" width="1" height="1"/>
<rect x="391" y="585" width="2" height="1"/>
<rect x="398" y="576" width="2" height="1"/>
<rect x="400" y="576" width="1" height="10"/>
<rect x="401" y="576" width="4" height="1"/>
<rect x="405" y="577" width="1" height="1"/>
<rect x="405" y="578" width="1" height="4"/>
<rect x="404" y="582" width="1" height="1"/>
<rect x="401" y="583" width="3" height="1"/>
<rect x="398" y="585" width="5" height="1"/>
<rect x="410" y="576" width="4" height="1"/>
<rect x="409" y="577" width="1" height="1"/>
<rect x="414" y="577" width="1" height="1"/>
<rect x="408" y="578" width="1" height="4"/>
<rect x="414" y="578" width="1" height="2"/>
<rect x="408" y="579" width="7" height="1"/>
<rect x="409" y="582" width="1" height="1"/>
<rect x="410" y="583" width="4" height="1"/>
<rect x="414" y="582" width="1" height="1"/>
<rect x="428" y="572" width="1" height="1"/>
<rect x="427" y="573" width="1" height="3"/>
<rect x="429" y="573" width="1" height="3"/>
<rect x="426" y="576" width="1" height="5"/>
<rect x="430" y="576" width="1" height="5"/>
<rect x="426" y="579" width="5" height="1"/>
<rect x="425" y="581" width="1" height="2"/>
<rect x="431" y="581" width="1" height="2"/>
<rect x="424" y="583" width="3" height="1"/>
<rect x="430" y="583" width="3" height="1"/>
<rect x="434" y="576" width="3" height="1"/>
<rect x="438" y="576" width="3" height="1"/>
<rect x="436" y="577" width="1" height="1"/>
<rect x="438" y="577" width="1" height="1"/>
<rect x="437" y="578" width="1" height="3"/>
<rect x="436" y="581" width="1" height="1"/>
<rect x="438" y="581" width="1" height="1"/>
<rect x="435" y="582" width="1" height="1"/>
<rect x="439" y="582" width="1" height="1"/>
<rect x="434" y="583" width="3" height="1"/>
<rect x="438" y="583" width="3" height="1"/>
<rect x="445" y="572" width="2" height="2"/>
<rect x="444" y="576" width="3" height="1"/>
<rect x="446" y="576" width="1" height="8"/>
<rect x="444" y="583" width="5" height="1"/>
<rect x="453" y="576" width="4" height="1"/>
<rect x="452" y="577" width="1" height="1"/>
<rect x="457" y="577" width="1" height="7"/>
<rect x="453" y="579" width="4" height="1"/>
<rect x="452" y="580" width="1" height="3"/>
<rect x="453" y="583" width="4" height="1"/>
<rect x="458" y="583" width="1" height="1"/>
<rect x="462" y="572" width="3" height="1"/>
<rect x="464" y="572" width="1" height="12"/>
<rect x="462" y="583" width="5" height="1"/>
<rect x="477" y="572" width="2" height="1"/>
<rect x="478" y="572" width="1" height="12"/>
<rect x="479" y="577" width="1" height="1"/>
<rect x="480" y="576" width="4" height="1"/>
<rect x="484" y="577" width="1" height="1"/>
<rect x="484" y="578" width="1" height="6"/>
<rect x="477" y="583" width="3" height="1"/>
<rect x="483" y="583" width="3" height="1"/>
<rect x="489" y="576" width="3" height="1"/>
<rect x="488" y="577" width="1" height="1"/>
<rect x="492" y="577" width="1" height="1"/>
<rect x="487" y="578" width="1" height="4"/>
<rect x="493" y="578" width="1" height="4"/>
<rect x="488" y="582" width="1" height="1"/>
<rect x="492" y="582" width="1" height="1"/>
<rect x="489" y="583" width="3" height="1"/>
<rect x="497" y="572" width="3" height="1"/>
<rect x="499" y="572" width="1" height="12"/>
<rect x="497" y="583" width="5" height="1"/>
<rect x="507" y="576" width="3" height="1"/>
<rect x="506" y="577" width="1" height="1"/>
<rect x="510" y="577" width="1" height="1"/>
<rect x="505" y="578" width="1" height="4"/>
<rect x="511" y="578" width="1" height="1"/>
<rect x="505" y="579" width="7" height="1"/>
<rect x="506" y="582" width="1" height="1"/>
<rect x="507" y="583" width="4" height="1"/>
<rect x="511" y="582" width="1" height="1"/>
<rect x="514" y="570" width="1" height="1"/>
<rect x="515" y="571" width="1" height="1"/>
<rect x="516" y="572" width="1" height="3"/>
<rect x="517" y="575" width="1" height="6"/>
<rect x="516" y="581" width="1" height="3"/>
<rect x="515" y="584" width="1" height="1"/>
<rect x="514" y="585" width="1" height="1"/>
<rect x="358" y="572" width="5" height="1"/>
<rect x="360" y="572" width="1" height="12"/>
<rect x="359" y="584" width="1" height="1"/>
<rect x="356" y="585" width="3" height="1"/>
<rect x="355" y="584" width="1" height="2"/>
<rect x="366" y="573" width="2" height="1"/>
<rect x="368" y="572" width="1" height="12"/>
<rect x="366" y="583" width="5" height="1"/>
<rect x="357" y="389" width="7" height="1"/>
<rect x="357" y="390" width="1" height="1"/>
<rect x="356" y="391" width="1" height="1"/>
<rect x="362" y="390" width="1" height="1"/>
<rect x="362" y="391" width="1" height="1"/>
<rect x="361" y="392" width="1" height="1"/>
<rect x="361" y="393" width="1" height="1"/>
<rect x="360" y="394" width="1" height="1"/>
<rect x="359" y="395" width="1" height="1"/>
<rect x="359" y="396" width="1" height="1"/>
<rect x="358" y="397" width="1" height="1"/>
<rect x="357" y="398" width="1" height="1"/>
<rect x="357" y="399" width="1" height="1"/>
<rect x="356" y="400" width="7" height="1"/>
<rect x="363" y="398" width="1" height="2"/>
<rect x="367" y="390" width="2" height="1"/>
<rect x="369" y="389" width="1" height="12"/>
<rect x="367" y="400" width="5" height="1"/>
<rect x="323" y="23" width="1" height="1"/>
<rect x="324" y="24" width="1" height="2"/>
<rect x="325" y="26" width="1" height="1"/>
<rect x="326" y="27" width="1" height="2"/>
<rect x="327" y="29" width="1" height="7"/>
<rect x="331" y="23" width="1" height="1"/>
<rect x="330" y="24" width="1" height="2"/>
<rect x="329" y="26" width="1" height="1"/>
<rect x="328" y="27" width="1" height="2"/>
<rect x="359" y="544" width="1" height="12"/>
<rect x="358" y="556" width="1" height="1"/>
<rect x="353" y="557" width="5" height="1"/>
<rect x="352" y="556" width="1" height="1"/>
<rect x="351" y="555" width="1" height="1"/>
<rect x="366" y="544" width="1" height="14"/>
<rect x="364" y="557" width="5" height="1"/>
<rect x="365" y="545" width="1" height="1"/>
<rect x="364" y="546" width="1" height="1"/>
<rect x="213" y="398" width="5" height="1"/>
<rect x="212" y="399" width="1" height="1"/>
<rect x="218" y="399" width="1" height="1"/>
<rect x="219" y="400" width="1" height="1"/>
<rect x="211" y="400" width="1" height="9"/>
<rect x="212" y="409" width="1" height="1"/>
<rect x="213" y="410" width="5" height="1"/>
<rect x="218" y="409" width="1" height="1"/>
<rect x="219" y="408" width="1" height="1"/>
<rect x="224" y="400" width="1" height="1"/>
<rect x="225" y="399" width="1" height="1"/>
<rect x="226" y="398" width="1" height="12"/>
<rect x="224" y="410" width="5" height="1"/>
<rect x="201" y="562" width="5" height="1"/>
<rect x="200" y="563" width="1" height="1"/>
<rect x="206" y="563" width="1" height="1"/>
<rect x="207" y="564" width="1" height="1"/>
<rect x="199" y="564" width="1" height="9"/>
<rect x="200" y="573" width="1" height="1"/>
<rect x="201" y="575" width="5" height="1"/>
<rect x="206" y="574" width="1" height="1"/>
<rect x="207" y="573" width="1" height="1"/>
<rect x="211" y="564" width="1" height="1"/>
<rect x="212" y="563" width="1" height="1"/>
<rect x="213" y="562" width="6" height="1"/>
<rect x="219" y="563" width="1" height="1"/>
<rect x="220" y="564" width="1" height="3"/>
<rect x="219" y="567" width="1" height="1"/>
<rect x="219" y="568" width="1" height="1"/>
<rect x="213" y="569" width="6" height="1"/>
<rect x="212" y="570" width="1" height="1"/>
<rect x="211" y="571" width="1" height="4"/>
<rect x="211" y="575" width="10" height="1"/>
<rect x="407" y="410" width="1" height="13"/>
<rect x="406" y="411" width="1" height="2"/>
<rect x="405" y="413" width="1" height="1"/>
<rect x="405" y="423" width="5" height="1"/>
<rect x="416" y="417" width="2" height="2"/>
<rect x="416" y="421" width="2" height="2"/>
<rect x="433" y="410" width="1" height="13"/>
<rect x="432" y="411" width="1" height="2"/>
<rect x="431" y="413" width="1" height="1"/>
<rect x="431" y="423" width="5" height="1"/>
<rect x="441" y="410" width="3" height="1"/>
<rect x="440" y="411" width="1" height="2"/>
<rect x="444" y="411" width="1" height="2"/>
<rect x="439" y="413" width="1" height="9"/>
<rect x="445" y="413" width="1" height="9"/>
<rect x="440" y="422" width="1" height="1"/>
<rect x="444" y="422" width="1" height="1"/>
<rect x="441" y="423" width="3" height="1"/>
<rect x="140" y="792" width="1" height="13"/>
<rect x="140" y="792" width="9" height="1"/>
<rect x="140" y="798" width="5" height="1"/>
<rect x="152" y="796" width="1" height="9"/>
<rect x="152" y="792" width="1" height="2"/>
<rect x="159" y="796" width="5" height="1"/>
<rect x="158" y="797" width="1" height="1"/>
<rect x="157" y="798" width="1" height="4"/>
<rect x="158" y="802" width="1" height="1"/>
<rect x="159" y="803" width="5" height="1"/>
<rect x="164" y="796" width="1" height="11"/>
<rect x="163" y="807" width="1" height="1"/>
<rect x="159" y="808" width="4" height="1"/>
<rect x="158" y="807" width="1" height="1"/>
<rect x="169" y="794" width="1" height="1"/>
<rect x="170" y="793" width="1" height="1"/>
<rect x="171" y="792" width="1" height="13"/>
<rect x="169" y="804" width="5" height="1"/>
<rect x="192" y="792" width="7" height="1"/>
<rect x="191" y="793" width="1" height="1"/>
<rect x="190" y="794" width="1" height="9"/>
<rect x="191" y="803" width="1" height="1"/>
<rect x="192" y="804" width="7" height="1"/>
<rect x="198" y="798" width="1" height="7"/>
<rect x="196" y="798" width="3" height="1"/>
<rect x="202" y="792" width="1" height="13"/>
<rect x="202" y="804" width="9" height="1"/>
<rect x="227" y="792" width="9" height="1"/>
<rect x="231" y="792" width="1" height="13"/>
<path d="M239.5 796.5L243.5 804.5" class="s" />
<path d="M248.5 796.5L242.5 807.5" class="s" />
<rect x="239" y="808" width="3" height="1"/>
<rect x="252" y="796" width="1" height="13"/>
<rect x="253" y="796" width="6" height="1"/>
<rect x="259" y="797" width="1" height="1"/>
<rect x="260" y="798" width="1" height="5"/>
<rect x="259" y="803" width="1" height="1"/>
<rect x="253" y="804" width="6" height="1"/>
<rect x="266" y="796" width="6" height="1"/>
<rect x="265" y="797" width="1" height="1"/>
<rect x="272" y="797" width="1" height="1"/>
<rect x="264" y="798" width="1" height="5"/>
<rect x="273" y="798" width="1" height="2"/>
<rect x="264" y="800" width="9" height="1"/>
<rect x="265" y="803" width="1" height="1"/>
<rect x="266" y="804" width="6" height="1"/>
<rect x="216" y="754" width="5" height="1"/>
<rect x="215" y="755" width="1" height="1"/>
<rect x="214" y="756" width="1" height="1"/>
<rect x="213" y="757" width="2" height="2"/>
<rect x="212" y="759" width="2" height="8"/>
<rect x="213" y="767" width="2" height="2"/>
<rect x="214" y="769" width="1" height="1"/>
<rect x="215" y="770" width="1" height="1"/>
<rect x="216" y="771" width="1" height="1"/>
<rect x="216" y="772" width="5" height="1"/>
<rect x="221" y="771" width="1" height="1"/>
<rect x="221" y="765" width="2" height="6"/>
<rect x="219" y="765" width="6" height="1"/>
<rect x="221" y="755" width="1" height="1"/>
<rect x="222" y="754" width="1" height="5"/>
<rect x="226" y="754" width="6" height="1"/>
<rect x="228" y="754" width="2" height="19"/>
<rect x="226" y="772" width="12" height="1"/>
<rect x="237" y="771" width="1" height="1"/>
<rect x="238" y="769" width="1" height="2"/>
</g>
<g fill="#000">

</g>
</svg>
</body></html>
